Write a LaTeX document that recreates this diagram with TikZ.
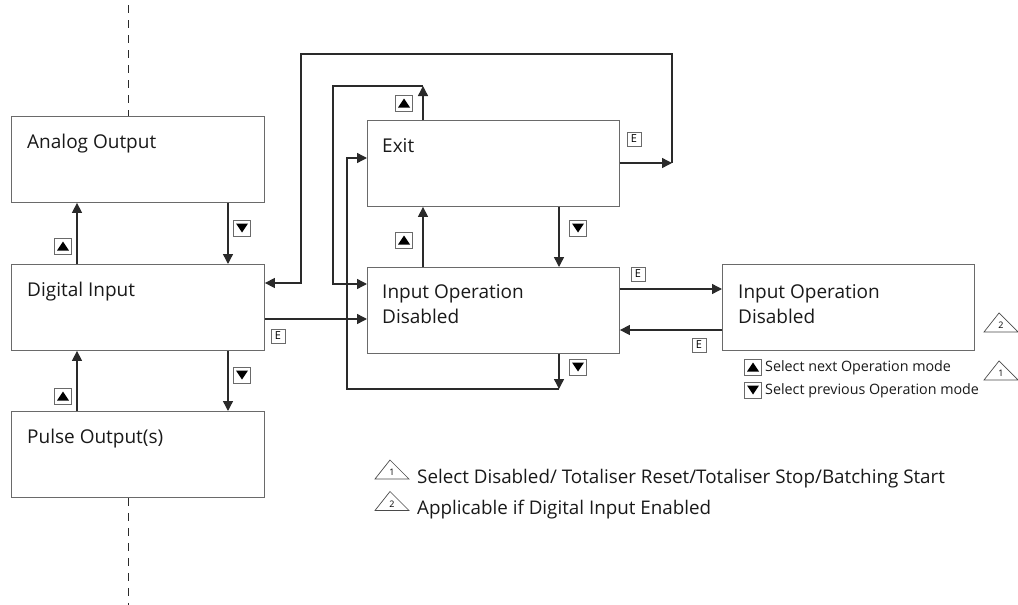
\documentclass[tikz,border=0pt]{standalone}
\usepackage{fontspec}
\setmainfont{Open Sans}
\usetikzlibrary{arrows.meta}
\definecolor{linec}{HTML}{2A2A2A}
\definecolor{boxc}{HTML}{6A6A6A}
\begin{document}
\begin{tikzpicture}[x=1pt,y=-1pt,
  box/.style={draw=boxc, line width=0.9pt, minimum width=253pt, minimum height=86pt, anchor=north west, inner sep=0pt},
  lbl/.style={anchor=base west, inner sep=0pt, font=\fontsize{19}{25}\selectfont, text=black!90},
  leg/.style={anchor=base west, inner sep=0pt, font=\fontsize{18.8}{25}\selectfont, text=black!90},
  smallleg/.style={anchor=base west, inner sep=0pt, font=\fontsize{14.3}{16}\selectfont, text=black!90},
  arr/.style={draw=linec, line width=1.4pt, -{Triangle[length=10pt,width=10pt]}},
  ebox/.style={draw=boxc, line width=0.6pt, minimum size=14pt, inner sep=0pt, font=\fontsize{11}{11}\selectfont},
  symbox/.style={draw=boxc, line width=0.6pt, minimum width=17pt, minimum height=16pt, inner sep=0pt},
  dashline/.style={draw=linec, line width=0.8pt, dash pattern=on 8pt off 7pt},
  pics/upsym/.style={code={\node[symbox] (-b) {}; \fill[black] (-6,4.5) -- (6,4.5) -- (0,-4.5) -- cycle;}},
  pics/downsym/.style={code={\node[symbox] (-b) {}; \fill[black] (-6,-4.5) -- (6,-4.5) -- (0,4.5) -- cycle;}},
  pics/warn/.style={code={\draw[linec!85, line width=0.7pt, line join=miter] (-17,9.5) -- (-2,-9.5) -- (17,9.5) -- cycle; \node[inner sep=0pt, font=\fontsize{9}{9}\selectfont] (-n) at (0,3) {#1};}}
]
\useasboundingbox (0,0) rectangle (1018,605);

% dashed divider
\coordinate (dtop) at (128,5);
\coordinate (dbot) at (128,605);

% boxes
\node[box] (AO) at (11,116) {};
\node[box] (DI) at (11,264) {};
\node[box] (PO) at (11,411) {};
\node[box, minimum width=252pt] (EX) at (367,120) {};
\node[box, minimum width=252pt] (IO) at (367,267) {};
\node[box, minimum width=252pt] (RB) at (722,264) {};

\draw[dashline] (dtop) -- (AO.north -| dtop);
\draw[dashline] (PO.south -| dbot) -- (dbot);

% labels
\node[lbl] (AOt) at (27,148) {Analog Output};
\node[lbl] (DIt) at (27,296) {Digital Input};
\node[lbl] (POt) at (27,443) {Pulse Output(s)};
\node[lbl] (EXt) at (382,152) {Exit};
\node[lbl, align=left] (IOt) at (382,323) {Input Operation\\Disabled};
\node[lbl, align=left] (RBt) at (738,323) {Input Operation\\Disabled};

% helper coordinates
\coordinate (xL) at (77,0);
\coordinate (xR) at (228,0);
\coordinate (xA) at (423,0);
\coordinate (xB) at (559,0);
\coordinate (c1) at (423,86);
\coordinate (c1b) at (333,86);
\coordinate (c1c) at (333,284);
\coordinate (c2) at (559,389);
\coordinate (c2b) at (347,389);
\coordinate (c2c) at (347,158);
\coordinate (c3) at (672,163);
\coordinate (c3b) at (672,54);
\coordinate (c3c) at (301,54);
\coordinate (c3d) at (301,283);
\coordinate (y319) at (0,319);
\coordinate (y289) at (0,289);
\coordinate (y330) at (0,330);

% connectors
\draw[arr] (DI.north -| xL) -- (AO.south -| xL);
\draw[arr] (AO.south -| xR) -- (DI.north -| xR);
\draw[arr] (PO.north -| xL) -- (DI.south -| xL);
\draw[arr] (DI.south -| xR) -- (PO.north -| xR);
\draw[arr] (IO.north -| xA) -- (EX.south -| xA);
\draw[arr] (EX.south -| xB) -- (IO.north -| xB);
\draw[arr] (EX.north -| xA) -- (c1);
\draw[arr] (c1) -- (c1b) -- (c1c) -- (IO.west |- c1c);
\draw[arr] (IO.south -| xB) -- (c2);
\draw[arr] (c2) -- (c2b) -- (c2c) -- (EX.west |- c2c);
\draw[arr] (EX.east |- c3) -- (c3);
\draw[arr] (c3) -- (c3b) -- (c3c) -- (c3d) -- (DI.east |- c3d);
\draw[arr] (DI.east |- y319) -- (IO.west |- y319);
\draw[arr] (IO.east |- y289) -- (RB.west |- y289);
\draw[arr] (RB.west |- y330) -- (IO.east |- y330);

% E keys
\node[ebox] (e1) at (278,336) {E};
\node[ebox] (e2) at (634,139) {E};
\node[ebox] (e3) at (638,274) {E};
\node[ebox] (e4) at (699,345) {E};

% arrow keys
\pic (s1) at (63,246) {upsym};
\pic (s2) at (63,396) {upsym};
\pic (s3) at (404,103) {upsym};
\pic (s4) at (404,240) {upsym};
\pic (s5) at (242,228) {downsym};
\pic (s6) at (242,375) {downsym};
\pic (s7) at (578,228) {downsym};
\pic (s8) at (578,367) {downsym};

% small legend
\pic (k1) at (753,367) {upsym};
\pic (k2) at (753,390) {downsym};
\node[smallleg] (k1t) at (765,371) {Select next Operation mode};
\node[smallleg] (k2t) at (765,394) {Select previous Operation mode};

% warning triangles
\pic (t2) at (1001,322.5) {warn={2}};
\pic (t1) at (1001,370.5) {warn={1}};
\pic (b1) at (392,469.5) {warn={1}};
\pic (b2) at (392,501) {warn={2}};

% bottom legend
\node[leg] (L1) at (417,483) {Select Disabled/ Totaliser Reset/Totaliser Stop/Batching Start};
\node[leg] (L2) at (417,514) {Applicable if Digital Input Enabled};
\end{tikzpicture}
\end{document}
